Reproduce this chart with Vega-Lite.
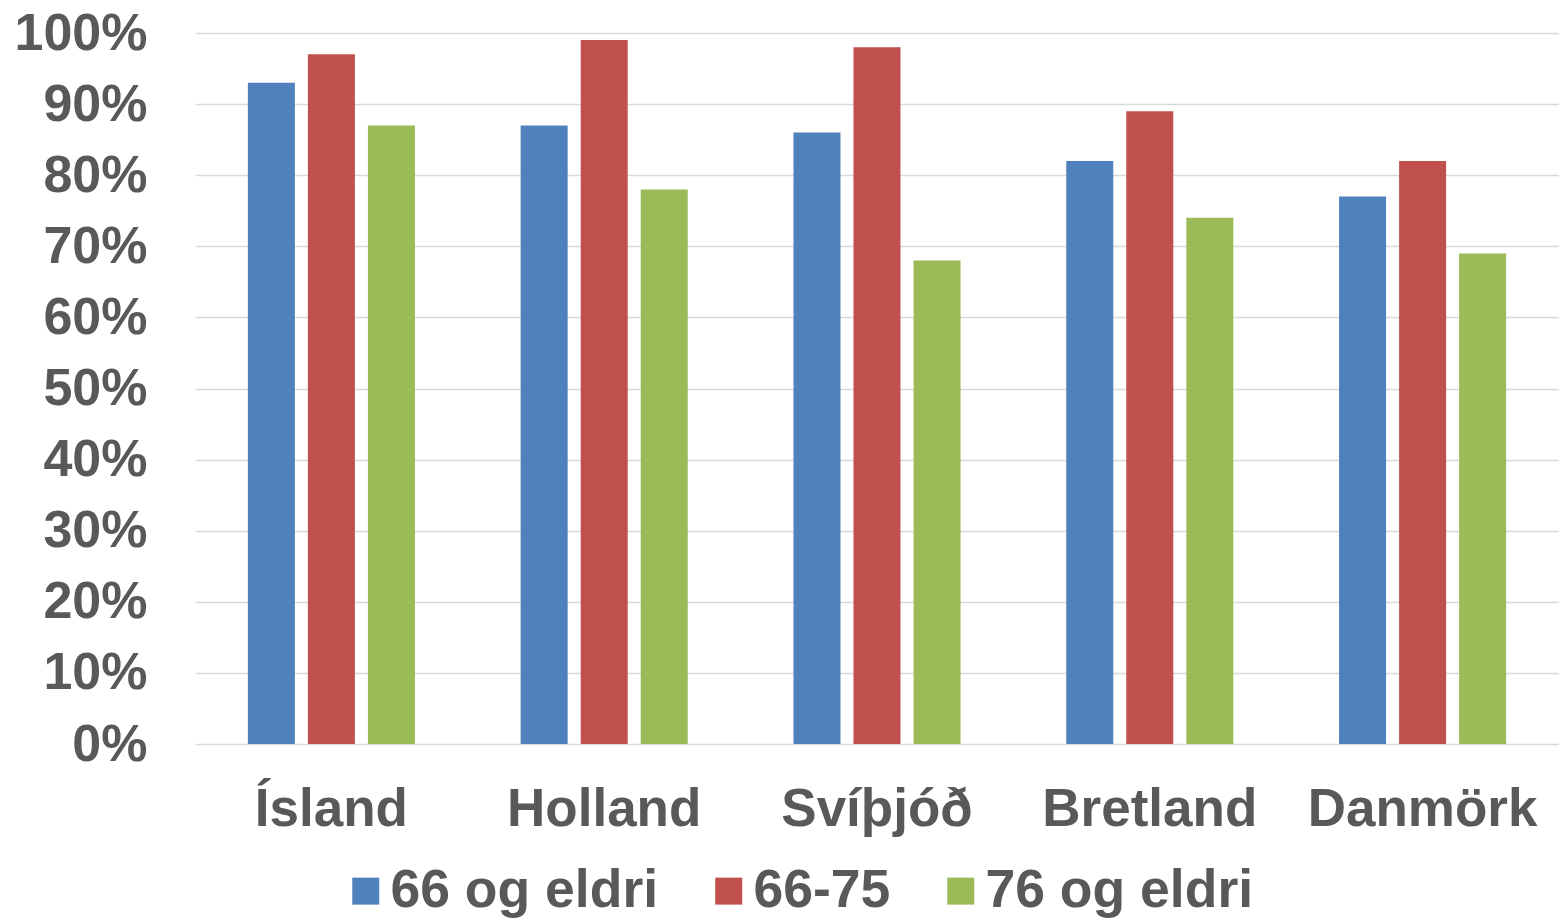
{
  "$schema": "https://vega.github.io/schema/vega-lite/v6.json",
  "autosize": "none",
  "width": 1364,
  "height": 711,
  "padding": {"left": 195, "top": 33, "right": 0, "bottom": 175},
  "background": "white",
  "data": {
    "values": [
      {"land": "Ísland", "hópur": "66 og eldri", "hlutfall": 0.93},
      {"land": "Ísland", "hópur": "66-75", "hlutfall": 0.97},
      {"land": "Ísland", "hópur": "76 og eldri", "hlutfall": 0.87},
      {"land": "Holland", "hópur": "66 og eldri", "hlutfall": 0.87},
      {"land": "Holland", "hópur": "66-75", "hlutfall": 0.99},
      {"land": "Holland", "hópur": "76 og eldri", "hlutfall": 0.78},
      {"land": "Svíþjóð", "hópur": "66 og eldri", "hlutfall": 0.86},
      {"land": "Svíþjóð", "hópur": "66-75", "hlutfall": 0.98},
      {"land": "Svíþjóð", "hópur": "76 og eldri", "hlutfall": 0.68},
      {"land": "Bretland", "hópur": "66 og eldri", "hlutfall": 0.82},
      {"land": "Bretland", "hópur": "66-75", "hlutfall": 0.89},
      {"land": "Bretland", "hópur": "76 og eldri", "hlutfall": 0.74},
      {"land": "Danmörk", "hópur": "66 og eldri", "hlutfall": 0.77},
      {"land": "Danmörk", "hópur": "66-75", "hlutfall": 0.82},
      {"land": "Danmörk", "hópur": "76 og eldri", "hlutfall": 0.69}
    ]
  },
  "mark": {"type": "bar"},
  "encoding": {
    "x": {
      "field": "land",
      "type": "nominal",
      "sort": ["Ísland", "Holland", "Svíþjóð", "Bretland", "Danmörk"],
      "scale": {"paddingInner": 0.34, "paddingOuter": 0.17},
      "axis": {
        "title": null,
        "labelAngle": 0,
        "labelFont": "Liberation Sans",
        "labelFontWeight": "bold",
        "labelFontSize": 53,
        "labelColor": "#595959",
        "labelPadding": 39,
        "labelLimit": 600,
        "labelOverlap": false,
        "ticks": false,
        "domain": false,
        "grid": false
      }
    },
    "xOffset": {
      "field": "hópur",
      "type": "nominal",
      "sort": ["66 og eldri", "66-75", "76 og eldri"],
      "scale": {"paddingInner": 0.217, "paddingOuter": 0.108}
    },
    "y": {
      "field": "hlutfall",
      "type": "quantitative",
      "scale": {"domain": [0, 1], "nice": false},
      "axis": {
        "title": null,
        "format": ".0%",
        "values": [0, 0.1, 0.2, 0.3, 0.4, 0.5, 0.6, 0.7, 0.8, 0.9, 1],
        "labelFont": "Liberation Sans",
        "labelFontWeight": "bold",
        "labelFontSize": 52,
        "labelColor": "#595959",
        "labelPadding": 48,
        "ticks": false,
        "domain": false,
        "grid": true,
        "gridColor": "#D9D9D9",
        "gridWidth": 1.5
      }
    },
    "color": {
      "field": "hópur",
      "type": "nominal",
      "sort": ["66 og eldri", "66-75", "76 og eldri"],
      "scale": {
        "domain": ["66 og eldri", "66-75", "76 og eldri"],
        "range": ["#4F81BD", "#C0504D", "#9BBB59"]
      },
      "legend": {
        "title": null,
        "orient": "none",
        "direction": "horizontal",
        "legendX": 144,
        "legendY": 831,
        "padding": 0,
        "symbolType": "square",
        "symbolSize": 729,
        "symbolStrokeWidth": 0,
        "labelFont": "Liberation Sans",
        "labelFontWeight": "bold",
        "labelFontSize": 53.5,
        "labelColor": "#595959",
        "labelOffset": -2,
        "columnPadding": 43,
        "labelLimit": 500
      }
    }
  },
  "config": {"view": {"stroke": null}}
}
